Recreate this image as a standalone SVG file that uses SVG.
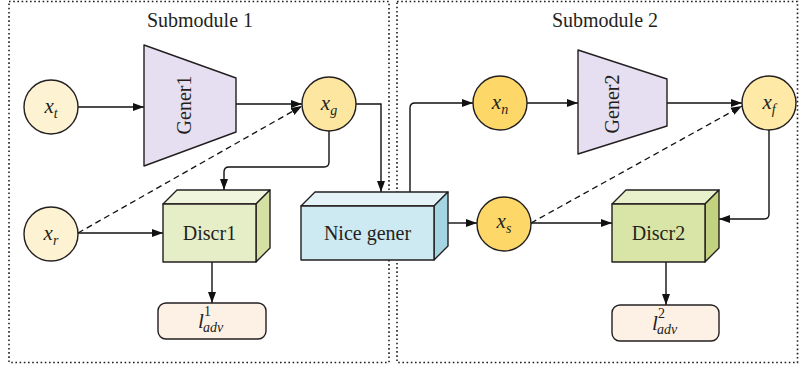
<svg xmlns="http://www.w3.org/2000/svg" width="799" height="371" viewBox="0 0 799 371">
  <style>
    .frame { fill: none; stroke: #1e1e1e; stroke-width: 1.6; stroke-dasharray: 1.6 2.6; }
    .title { font-family: "Liberation Serif", "Times New Roman", serif; font-size: 20px; fill: #231f20; text-anchor: middle; }
    .lbl { font-family: "Liberation Serif", "Times New Roman", serif; font-size: 20px; fill: #231f20; text-anchor: middle; }
    .math { font-family: "Liberation Serif", "Times New Roman", serif; font-style: italic; font-size: 21px; fill: #231f20; }
    .small { font-size: 14px; }
    .upright { font-style: normal; }
    .shape { stroke: #231f20; stroke-width: 1.4; stroke-linejoin: round; }
    .wire { fill: none; stroke: #111; stroke-width: 1.4; }
    .dash { fill: none; stroke: #111; stroke-width: 1.3; stroke-dasharray: 6 4; }
  </style>
  <defs>
    <marker id="arrow" markerUnits="userSpaceOnUse" markerWidth="12" markerHeight="10" refX="11" refY="5" orient="auto">
      <path d="M0,1 L11,5 L0,9 Z" fill="#111"/>
    </marker>
  </defs>

  <rect width="799" height="371" fill="#ffffff"/>

  <!-- submodule frames -->
  <g id="submodule1">
    <rect class="frame" x="9" y="1.5" width="380" height="361"/>
    <text class="title" x="200" y="27">Submodule 1</text>
  </g>
  <g id="submodule2">
    <rect class="frame" x="397" y="1.5" width="400.5" height="361"/>
    <text class="title" x="605" y="27">Submodule 2</text>
  </g>

  <!-- connectors -->
  <g id="connectors">
    <line class="wire" x1="78" y1="107" x2="144" y2="107" marker-end="url(#arrow)"/>
    <line class="wire" x1="236" y1="104" x2="302" y2="104" marker-end="url(#arrow)"/>
    <path class="wire" d="M356,104 H381 V192" marker-end="url(#arrow)"/>
    <path class="wire" d="M329,131 V162 Q329,167 324,167 H229 Q224,167 224,172 V190" marker-end="url(#arrow)"/>
    <line class="wire" x1="78" y1="233" x2="163" y2="233" marker-end="url(#arrow)"/>
    <line class="dash" x1="78" y1="233" x2="302" y2="106" marker-end="url(#arrow)"/>
    <line class="wire" x1="212" y1="262" x2="212" y2="303" marker-end="url(#arrow)"/>
    <line class="wire" x1="448" y1="223" x2="477" y2="223" marker-end="url(#arrow)"/>
    <path class="wire" d="M410,192 V108 Q410,103 415,103 H473" marker-end="url(#arrow)"/>
    <line class="wire" x1="527" y1="103" x2="578" y2="103" marker-end="url(#arrow)"/>
    <line class="wire" x1="667" y1="103" x2="742" y2="103" marker-end="url(#arrow)"/>
    <line class="dash" x1="531" y1="223" x2="742" y2="106" marker-end="url(#arrow)"/>
    <line class="wire" x1="531" y1="223" x2="612" y2="223" marker-end="url(#arrow)"/>
    <path class="wire" d="M769,130 V214 Q769,219 764,219 H719" marker-end="url(#arrow)"/>
    <line class="wire" x1="666" y1="262" x2="666" y2="305" marker-end="url(#arrow)"/>
  </g>

  <!-- inputs and intermediate samples -->
  <g id="xt">
    <circle class="shape" cx="51" cy="107" r="27" fill="#fdf3d3"/>
    <text class="math" x="51" y="113" text-anchor="middle">x<tspan class="small" dy="5">t</tspan></text>
  </g>
  <g id="xr">
    <circle class="shape" cx="51" cy="234" r="27" fill="#fdf3d3"/>
    <text class="math" x="51" y="240" text-anchor="middle">x<tspan class="small" dy="5">r</tspan></text>
  </g>
  <g id="xg">
    <circle class="shape" cx="329" cy="104" r="27" fill="#fde7a0"/>
    <text class="math" x="329" y="110" text-anchor="middle">x<tspan class="small" dy="5">g</tspan></text>
  </g>
  <g id="xn">
    <circle class="shape" cx="500" cy="103" r="27" fill="#fdd868"/>
    <text class="math" x="500" y="109" text-anchor="middle">x<tspan class="small" dy="5">n</tspan></text>
  </g>
  <g id="xs">
    <circle class="shape" cx="504" cy="224" r="27" fill="#fdd868"/>
    <text class="math" x="504" y="228" text-anchor="middle">x<tspan class="small" dy="5">s</tspan></text>
  </g>
  <g id="xf">
    <circle class="shape" cx="769" cy="103" r="27" fill="#fee9a6"/>
    <text class="math" x="769" y="109" text-anchor="middle">x<tspan class="small" dy="5">f</tspan></text>
  </g>

  <!-- generators -->
  <g id="gener1">
    <polygon class="shape" points="144,45 236,78 236,132 144,166" fill="#e6dff1"/>
    <text class="lbl" transform="translate(191,105) rotate(-90)">Gener1</text>
  </g>
  <g id="gener2">
    <polygon class="shape" points="578,50 667,79 667,126 578,154" fill="#e6dff1"/>
    <text class="lbl" transform="translate(619,104) rotate(-90)">Gener2</text>
  </g>

  <!-- discriminators -->
  <g id="discr1">
    <polygon class="shape" points="163,204 177,190 270,190 256,204" fill="#f0f5de"/>
    <polygon class="shape" points="256,204 270,190 270,248 256,262" fill="#d5e0a3"/>
    <rect class="shape" x="163" y="204" width="93" height="58" fill="#e6eec8"/>
    <text class="lbl" x="209.5" y="240">Discr1</text>
  </g>
  <g id="discr2">
    <polygon class="shape" points="612,204 626,190 719,190 705,204" fill="#e9f0cc"/>
    <polygon class="shape" points="705,204 719,190 719,248 705,262" fill="#c3d27f"/>
    <rect class="shape" x="612" y="204" width="93" height="58" fill="#d9e5a6"/>
    <text class="lbl" x="658.5" y="240">Discr2</text>
  </g>

  <!-- shared generator block -->
  <g id="nicegener">
    <polygon class="shape" points="301,206 315,192 448,192 434,206" fill="#e3f3f8"/>
    <polygon class="shape" points="434,206 448,192 448,246 434,260" fill="#a5d5e2"/>
    <rect class="shape" x="301" y="206" width="133" height="54" fill="#cde9f1"/>
    <text class="lbl" x="367.5" y="240">Nice gener</text>
  </g>

  <!-- adversarial losses -->
  <g id="ladv1">
    <rect class="shape" x="158" y="303" width="108" height="36" rx="8" fill="#fdf1e6"/>
    <text class="math" x="198" y="328">l</text>
    <text class="math small upright" x="204" y="316">1</text>
    <text class="math small" x="203" y="332">adv</text>
  </g>
  <g id="ladv2">
    <rect class="shape" x="612" y="305" width="107" height="36" rx="8" fill="#fdf1e6"/>
    <text class="math" x="652" y="330">l</text>
    <text class="math small upright" x="658" y="318">2</text>
    <text class="math small" x="657" y="334">adv</text>
  </g>
</svg>
